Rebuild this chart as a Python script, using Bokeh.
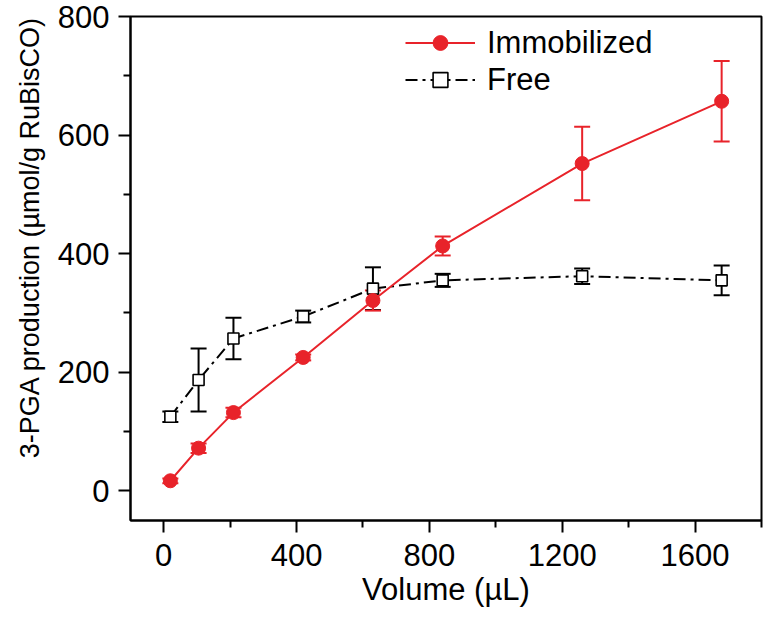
from bokeh.plotting import figure
from bokeh.models import (ColumnDataSource, Whisker, TeeHead, FixedTicker, Legend,
                          LegendItem, Title, Range1d)
from bokeh.embed import file_html
from bokeh.resources import INLINE

# ---- data ----
volume = [20, 105, 210, 420, 630, 840, 1260, 1680]
immobilized = [17, 72, 132, 225, 321, 413, 552, 657]
immobilized_err = [4, 8, 8, 5, 17, 16, 62, 68]
free = [125, 187, 257, 294, 341, 355, 362, 355]
free_err = [9, 53, 35, 10, 36, 11, 13, 25]

x_major = [0, 400, 800, 1200, 1600]
x_minor = [200, 600, 1000, 1400, 1800]
y_major = [0, 200, 400, 600, 800]
y_minor = [100, 300, 500, 700]

Y_LABEL = "3-PGA production (\u00b5mol/g RuBisCO)"
X_LABEL = "Volume (\u00b5L)"

RED = "#e8232a"
FONT = "Liberation Sans"

p = figure(width=763, height=617, output_backend="svg", toolbar_location=None,
           x_range=Range1d(-100, 1800), y_range=Range1d(-50, 800),
           min_border_left=130, min_border_right=2, min_border_top=16,
           min_border_bottom=97)
p.xgrid.visible = False
p.ygrid.visible = False
p.outline_line_color = "black"
p.outline_line_width = 2
p.outline_line_alpha = 1.0
p.background_fill_color = "white"
p.border_fill_color = "white"

for ax in (p.xaxis[0], p.yaxis[0]):
    ax.axis_line_width = 2
    ax.major_tick_line_width = 2
    ax.minor_tick_line_width = 2
    ax.major_tick_in = 0
    ax.minor_tick_in = 0
    ax.major_tick_out = 12
    ax.minor_tick_out = 7
    ax.major_label_text_font = FONT
    ax.major_label_text_font_size = "31px"
    ax.major_label_text_color = "black"
    ax.axis_label_text_font = FONT
    ax.axis_label_text_font_style = "normal"
    ax.axis_label_text_color = "black"

p.xaxis.ticker = FixedTicker(ticks=x_major, minor_ticks=x_minor)
p.yaxis.ticker = FixedTicker(ticks=y_major, minor_ticks=y_minor)
p.xaxis.major_label_standoff = 11
p.yaxis.major_label_standoff = 9
p.xaxis.axis_label = X_LABEL
p.xaxis.axis_label_text_font_size = "31px"
p.xaxis.axis_label_standoff = 3

# ---- y axis title: shifted toward the top, like the reference ----
use_axis_label = True
try:
    p.yaxis[0].axis_label_align = "right"
except Exception:
    use_axis_label = False

if use_axis_label:
    p.yaxis.axis_label = Y_LABEL
    p.yaxis.axis_label_text_font_size = "27px"
    p.yaxis.axis_label_standoff = 20
else:
    ytitle = Title(text=Y_LABEL, align="right",
                   text_font=FONT, text_font_size="27px", text_font_style="normal",
                   text_color="black", standoff=20, offset=0)
    p.add_layout(ytitle, "left")

# ---- sources ----
src_imm = ColumnDataSource(dict(
    x=volume, y=immobilized,
    upper=[v + e for v, e in zip(immobilized, immobilized_err)],
    lower=[v - e for v, e in zip(immobilized, immobilized_err)]))
src_free = ColumnDataSource(dict(
    x=volume, y=free,
    upper=[v + e for v, e in zip(free, free_err)],
    lower=[v - e for v, e in zip(free, free_err)]))

# ---- Free series ----
free_line = p.line("x", "y", source=src_free, line_color="black", line_width=2,
                   line_dash="12 5 3 5")
w_free = Whisker(base="x", upper="upper", lower="lower", source=src_free,
                 dimension="height", line_color="black", line_width=2, level="underlay",
                 upper_head=TeeHead(size=16, line_color="black", line_width=2),
                 lower_head=TeeHead(size=16, line_color="black", line_width=2))
p.add_layout(w_free)

# ---- Immobilized series ----
imm_line = p.line("x", "y", source=src_imm, line_color=RED, line_width=2)
w_imm = Whisker(base="x", upper="upper", lower="lower", source=src_imm,
                dimension="height", line_color=RED, line_width=2, level="underlay",
                upper_head=TeeHead(size=16, line_color=RED, line_width=2),
                lower_head=TeeHead(size=16, line_color=RED, line_width=2))
p.add_layout(w_imm)

free_pts = p.scatter("x", "y", source=src_free, marker="square", size=11,
                     fill_color="white", line_color="black", line_width=1.6)
imm_pts = p.scatter("x", "y", source=src_imm, marker="circle", size=14,
                    fill_color=RED, line_color=RED)

# ---- legend ----
legend = Legend(items=[LegendItem(label="Immobilized", renderers=[imm_line, imm_pts]),
                       LegendItem(label="Free", renderers=[free_line, free_pts])],
                location=(275, 422), orientation="vertical",
                glyph_width=70, glyph_height=37, label_height=37, label_standoff=12,
                spacing=0, padding=0, margin=0,
                border_line_color=None, background_fill_alpha=0,
                label_text_font=FONT, label_text_font_size="31px",
                label_text_color="black", label_text_baseline="middle")
p.add_layout(legend)

open("out.html", "w").write(file_html(p, INLINE))
